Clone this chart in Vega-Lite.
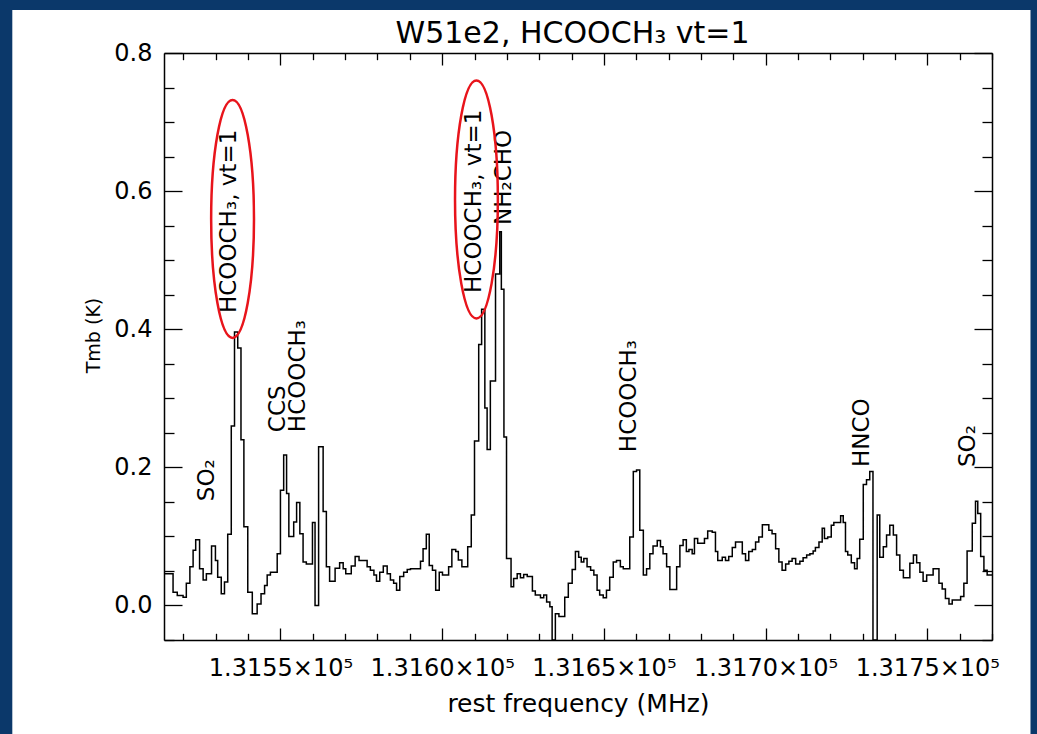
{
  "$schema": "https://vega.github.io/schema/vega-lite/v6.json",
  "width": 828,
  "height": 587,
  "autosize": {"type": "none"},
  "padding": {"left": 164, "top": 53, "right": 45, "bottom": 94},
  "background": "#0b386a",
  "config": {
    "view": {"stroke": null},
    "axis": {
      "zindex": 1,
      "grid": false,
      "domainColor": "#000000",
      "domainWidth": 1.5,
      "tickColor": "#000000",
      "tickWidth": 1.3,
      "labelFont": "DejaVu Sans",
      "labelFontSize": 24,
      "labelColor": "#000000",
      "titleFont": "DejaVu Sans",
      "titleFontSize": 24,
      "titleFontWeight": "normal",
      "titleColor": "#000000",
      "labelFlush": false,
      "labelOverlap": false,
      "labelBound": false
    },
    "text": {"font": "DejaVu Sans", "color": "#000000"}
  },
  "datasets": {
    "spectrum": [
      {"f": 131514.2, "T": 0.046}, {"f": 131516.8, "T": 0.019}, {"f": 131518.1, "T": 0.0145}, {"f": 131519.9, "T": 0.012},
      {"f": 131520.9, "T": 0.032}, {"f": 131522.0, "T": 0.056}, {"f": 131523.0, "T": 0.080}, {"f": 131523.8, "T": 0.095},
      {"f": 131525.0, "T": 0.053}, {"f": 131526.1, "T": 0.037}, {"f": 131527.1, "T": 0.046}, {"f": 131528.7, "T": 0.086},
      {"f": 131529.9, "T": 0.065}, {"f": 131530.6, "T": 0.041}, {"f": 131531.7, "T": 0.017}, {"f": 131532.7, "T": 0.034},
      {"f": 131533.7, "T": 0.103}, {"f": 131534.8, "T": 0.260}, {"f": 131535.8, "T": 0.396}, {"f": 131536.8, "T": 0.373},
      {"f": 131537.8, "T": 0.240}, {"f": 131538.7, "T": 0.114}, {"f": 131539.9, "T": 0.019}, {"f": 131541.3, "T": -0.012},
      {"f": 131542.8, "T": 0.002}, {"f": 131544.0, "T": 0.017}, {"f": 131545.1, "T": 0.029}, {"f": 131545.9, "T": 0.044},
      {"f": 131546.9, "T": 0.048}, {"f": 131549.0, "T": 0.075}, {"f": 131550.0, "T": 0.167}, {"f": 131551.0, "T": 0.218},
      {"f": 131551.9, "T": 0.162}, {"f": 131552.6, "T": 0.100}, {"f": 131554.1, "T": 0.121}, {"f": 131555.0, "T": 0.149},
      {"f": 131556.0, "T": 0.104}, {"f": 131557.0, "T": 0.063}, {"f": 131558.0, "T": 0.060}, {"f": 131559.9, "T": 0.120},
      {"f": 131560.7, "T": 0.000}, {"f": 131561.8, "T": 0.230}, {"f": 131563.2, "T": 0.136}, {"f": 131564.2, "T": 0.056},
      {"f": 131565.2, "T": 0.035}, {"f": 131566.9, "T": 0.054}, {"f": 131568.3, "T": 0.062}, {"f": 131569.4, "T": 0.053},
      {"f": 131570.2, "T": 0.046}, {"f": 131571.9, "T": 0.057}, {"f": 131573.1, "T": 0.071}, {"f": 131574.3, "T": 0.065},
      {"f": 131576.8, "T": 0.056}, {"f": 131577.8, "T": 0.051}, {"f": 131578.9, "T": 0.044}, {"f": 131579.7, "T": 0.035},
      {"f": 131580.7, "T": 0.048}, {"f": 131581.8, "T": 0.057}, {"f": 131583.0, "T": 0.046}, {"f": 131584.0, "T": 0.037},
      {"f": 131585.0, "T": 0.032}, {"f": 131585.9, "T": 0.022}, {"f": 131586.9, "T": 0.042}, {"f": 131588.1, "T": 0.048},
      {"f": 131589.2, "T": 0.052}, {"f": 131590.2, "T": 0.053}, {"f": 131593.3, "T": 0.064}, {"f": 131594.1, "T": 0.082},
      {"f": 131595.1, "T": 0.103}, {"f": 131596.0, "T": 0.058}, {"f": 131597.0, "T": 0.051}, {"f": 131598.0, "T": 0.022},
      {"f": 131599.1, "T": 0.048}, {"f": 131600.1, "T": 0.044}, {"f": 131602.0, "T": 0.056}, {"f": 131603.0, "T": 0.081},
      {"f": 131604.2, "T": 0.078}, {"f": 131605.0, "T": 0.066}, {"f": 131606.1, "T": 0.056}, {"f": 131607.9, "T": 0.085},
      {"f": 131609.0, "T": 0.131}, {"f": 131610.0, "T": 0.238}, {"f": 131611.3, "T": 0.378}, {"f": 131612.2, "T": 0.429},
      {"f": 131613.2, "T": 0.286}, {"f": 131613.9, "T": 0.226}, {"f": 131614.9, "T": 0.325}, {"f": 131616.5, "T": 0.480},
      {"f": 131617.8, "T": 0.541}, {"f": 131618.3, "T": 0.458}, {"f": 131619.1, "T": 0.244}, {"f": 131619.9, "T": 0.068},
      {"f": 131621.3, "T": 0.027}, {"f": 131622.1, "T": 0.039}, {"f": 131623.2, "T": 0.046}, {"f": 131624.2, "T": 0.040},
      {"f": 131625.2, "T": 0.045}, {"f": 131626.3, "T": 0.042}, {"f": 131627.9, "T": 0.021}, {"f": 131628.8, "T": 0.015},
      {"f": 131630.4, "T": 0.011}, {"f": 131631.4, "T": 0.015}, {"f": 131632.3, "T": 0.005}, {"f": 131633.3, "T": -0.002},
      {"f": 131634.0, "T": -0.050}, {"f": 131635.0, "T": -0.012}, {"f": 131636.1, "T": -0.016}, {"f": 131637.9, "T": 0.012},
      {"f": 131639.0, "T": 0.032}, {"f": 131640.2, "T": 0.052}, {"f": 131641.2, "T": 0.078}, {"f": 131642.2, "T": 0.070},
      {"f": 131643.0, "T": 0.063}, {"f": 131643.8, "T": 0.068}, {"f": 131644.8, "T": 0.056}, {"f": 131645.9, "T": 0.051},
      {"f": 131646.9, "T": 0.044}, {"f": 131647.9, "T": 0.022}, {"f": 131648.7, "T": 0.015}, {"f": 131649.8, "T": 0.011},
      {"f": 131650.8, "T": 0.022}, {"f": 131651.8, "T": 0.041}, {"f": 131652.9, "T": 0.063}, {"f": 131653.9, "T": 0.065},
      {"f": 131655.1, "T": 0.056}, {"f": 131656.0, "T": 0.053}, {"f": 131658.0, "T": 0.099}, {"f": 131659.1, "T": 0.194},
      {"f": 131660.1, "T": 0.196}, {"f": 131661.1, "T": 0.109}, {"f": 131662.2, "T": 0.044}, {"f": 131663.2, "T": 0.053},
      {"f": 131664.2, "T": 0.075}, {"f": 131665.2, "T": 0.086}, {"f": 131666.5, "T": 0.094}, {"f": 131667.5, "T": 0.085},
      {"f": 131668.3, "T": 0.075}, {"f": 131669.4, "T": 0.056}, {"f": 131670.4, "T": 0.023}, {"f": 131672.5, "T": 0.056},
      {"f": 131673.5, "T": 0.087}, {"f": 131674.5, "T": 0.095}, {"f": 131675.5, "T": 0.078}, {"f": 131676.3, "T": 0.081},
      {"f": 131677.3, "T": 0.075}, {"f": 131678.0, "T": 0.097}, {"f": 131679.0, "T": 0.090}, {"f": 131681.1, "T": 0.097},
      {"f": 131682.1, "T": 0.108}, {"f": 131683.5, "T": 0.106}, {"f": 131684.5, "T": 0.078}, {"f": 131685.2, "T": 0.065},
      {"f": 131686.6, "T": 0.070}, {"f": 131687.6, "T": 0.065}, {"f": 131688.6, "T": 0.071}, {"f": 131689.7, "T": 0.084},
      {"f": 131690.7, "T": 0.092}, {"f": 131692.8, "T": 0.075}, {"f": 131693.8, "T": 0.065}, {"f": 131694.8, "T": 0.078},
      {"f": 131695.9, "T": 0.081}, {"f": 131696.9, "T": 0.092}, {"f": 131697.9, "T": 0.099}, {"f": 131699.0, "T": 0.117},
      {"f": 131701.0, "T": 0.109}, {"f": 131702.0, "T": 0.104}, {"f": 131703.1, "T": 0.082}, {"f": 131704.1, "T": 0.063},
      {"f": 131705.1, "T": 0.051}, {"f": 131706.2, "T": 0.060}, {"f": 131707.2, "T": 0.064}, {"f": 131708.2, "T": 0.068},
      {"f": 131709.3, "T": 0.060}, {"f": 131710.6, "T": 0.064}, {"f": 131711.6, "T": 0.069}, {"f": 131712.7, "T": 0.073},
      {"f": 131713.7, "T": 0.075}, {"f": 131714.7, "T": 0.079}, {"f": 131715.4, "T": 0.084}, {"f": 131716.5, "T": 0.092},
      {"f": 131717.5, "T": 0.112}, {"f": 131718.2, "T": 0.097}, {"f": 131719.2, "T": 0.099}, {"f": 131720.3, "T": 0.116},
      {"f": 131721.1, "T": 0.120}, {"f": 131723.2, "T": 0.130}, {"f": 131724.0, "T": 0.120}, {"f": 131724.7, "T": 0.078},
      {"f": 131725.4, "T": 0.073}, {"f": 131726.5, "T": 0.062}, {"f": 131727.5, "T": 0.053}, {"f": 131728.3, "T": 0.068},
      {"f": 131729.1, "T": 0.096}, {"f": 131730.2, "T": 0.175}, {"f": 131731.2, "T": 0.182}, {"f": 131732.2, "T": 0.194},
      {"f": 131733.2, "T": -0.050}, {"f": 131734.5, "T": 0.131}, {"f": 131735.3, "T": 0.070}, {"f": 131736.4, "T": 0.085},
      {"f": 131737.4, "T": 0.102}, {"f": 131738.4, "T": 0.116}, {"f": 131739.5, "T": 0.102}, {"f": 131740.5, "T": 0.073},
      {"f": 131741.5, "T": 0.051}, {"f": 131742.6, "T": 0.040}, {"f": 131744.6, "T": 0.061}, {"f": 131745.7, "T": 0.073},
      {"f": 131746.7, "T": 0.062}, {"f": 131747.7, "T": 0.048}, {"f": 131748.7, "T": 0.035}, {"f": 131749.8, "T": 0.044},
      {"f": 131751.8, "T": 0.053}, {"f": 131753.6, "T": 0.032}, {"f": 131754.6, "T": 0.024}, {"f": 131755.6, "T": 0.010},
      {"f": 131756.7, "T": 0.002}, {"f": 131757.7, "T": 0.008}, {"f": 131760.3, "T": 0.013}, {"f": 131761.3, "T": 0.032},
      {"f": 131762.3, "T": 0.079}, {"f": 131763.9, "T": 0.119}, {"f": 131764.9, "T": 0.151}, {"f": 131765.6, "T": 0.133},
      {"f": 131766.5, "T": 0.071}, {"f": 131767.5, "T": 0.051}, {"f": 131768.5, "T": 0.044}, {"f": 131770.0, "T": 0.044}
    ],
    "lines": [
      {"label": "SO₂", "f": 131527.4, "T": 0.151},
      {"label": "HCOOCH₃,  vt=1", "f": 131534.2, "T": 0.4235},
      {"label": "CCS", "f": 131549.1, "T": 0.251},
      {"label": "HCOOCH₃", "f": 131555.3, "T": 0.251},
      {"label": "HCOOCH₃,  vt=1", "f": 131609.7, "T": 0.4525},
      {"label": "NH₂CHO", "f": 131619.0, "T": 0.551},
      {"label": "HCOOCH₃", "f": 131657.9, "T": 0.222},
      {"label": "HNCO", "f": 131729.7, "T": 0.2005},
      {"label": "SO₂", "f": 131762.7, "T": 0.2005}
    ],
    "highlights": [
      {"line": "HCOOCH3 vt=1 (a)", "f": 131535.2, "T": 0.5597},
      {"line": "HCOOCH3 vt=1 (b)", "f": 131610.6, "T": 0.5879}
    ]
  },
  "resolve": {"axis": {"x": "independent", "y": "independent"}},
  "layer": [
    {
      "description": "white page behind the plot, inside the dark frame",
      "data": {"values": [{"panel": "page"}]},
      "mark": {"type": "rect", "fill": "#ffffff", "clip": false},
      "encoding": {
        "x": {"datum": 131467.1, "type": "quantitative", "scale": {"domain": [131514, 131770], "nice": false, "zero": false}, "axis": null},
        "x2": {"datum": 131781.9},
        "y": {"datum": 0.8623, "type": "quantitative", "scale": {"domain": [-0.05, 0.8], "nice": false, "zero": false}, "axis": null},
        "y2": {"datum": -0.2}
      }
    },
    {
      "description": "spectrum, drawn as a histogram-style step line",
      "data": {"name": "spectrum"},
      "mark": {"type": "line", "interpolate": "step-after", "stroke": "#000000", "strokeWidth": 1.5},
      "encoding": {
        "x": {
          "field": "f", "type": "quantitative",
          "scale": {"domain": [131514, 131770], "nice": false, "zero": false},
          "axis": {
            "orient": "bottom",
            "zindex": 2,
            "values": [131550, 131600, 131650, 131700, 131750],
            "tickSize": -12,
            "labelExpr": "format(datum.value / 100000, '.4f') + '×10⁵'",
            "labelPadding": 28,
            "title": "rest frequency (MHz)",
            "titleFontSize": 25,
            "titlePadding": 11
          }
        },
        "y": {
          "field": "T", "type": "quantitative",
          "scale": {"domain": [-0.05, 0.8], "nice": false, "zero": false},
          "axis": {
            "orient": "left",
            "zindex": 2,
            "values": [0, 0.2, 0.4, 0.6, 0.8],
            "format": ".1f",
            "tickSize": -18,
            "labelPadding": 30,
            "title": "Tmb (K)",
            "titleFontSize": 19,
            "titleY": 282,
            "titlePadding": 10
          }
        }
      }
    },
    {
      "description": "minor ticks, bottom and left",
      "data": {"name": "spectrum"},
      "mark": {"type": "line", "strokeOpacity": 0},
      "encoding": {
        "x": {
          "field": "f", "type": "quantitative",
          "scale": {"domain": [131514, 131770], "nice": false, "zero": false},
          "axis": {"orient": "bottom", "zindex": 2, "values": [131520, 131530, 131540, 131560, 131570, 131580, 131590, 131610, 131620, 131630, 131640, 131660, 131670, 131680, 131690, 131710, 131720, 131730, 131740, 131760, 131770], "tickSize": -6.7, "labels": false, "domain": false, "title": null}
        },
        "y": {
          "field": "T", "type": "quantitative",
          "scale": {"domain": [-0.05, 0.8], "nice": false, "zero": false},
          "axis": {"orient": "left", "zindex": 2, "values": [-0.05, 0.05, 0.1, 0.15, 0.25, 0.3, 0.35, 0.45, 0.5, 0.55, 0.65, 0.7, 0.75], "tickSize": -10, "labels": false, "domain": false, "title": null}
        }
      }
    },
    {
      "description": "major ticks and frame, top and right; the top axis carries the plot title",
      "data": {"name": "spectrum"},
      "mark": {"type": "line", "strokeOpacity": 0},
      "encoding": {
        "x": {
          "field": "f", "type": "quantitative",
          "scale": {"domain": [131514, 131770], "nice": false, "zero": false},
          "axis": {
            "orient": "top", "zindex": 2,
            "values": [131550, 131600, 131650, 131700, 131750],
            "tickSize": -12, "labels": false, "domain": true,
            "title": "W51e2, HCOOCH₃ vt=1",
            "titleFontSize": 30,
            "titleBaseline": "alphabetic",
            "titleAlign": "center",
            "titleAngle": 0,
            "titleX": 408,
            "titleY": -11
          }
        },
        "y": {
          "field": "T", "type": "quantitative",
          "scale": {"domain": [-0.05, 0.8], "nice": false, "zero": false},
          "axis": {"orient": "right", "zindex": 2, "values": [0, 0.2, 0.4, 0.6, 0.8], "tickSize": -18, "labels": false, "domain": true, "title": null}
        }
      }
    },
    {
      "description": "minor ticks, top and right",
      "data": {"name": "spectrum"},
      "mark": {"type": "line", "strokeOpacity": 0},
      "encoding": {
        "x": {
          "field": "f", "type": "quantitative",
          "scale": {"domain": [131514, 131770], "nice": false, "zero": false},
          "axis": {"orient": "top", "zindex": 2, "values": [131520, 131530, 131540, 131560, 131570, 131580, 131590, 131610, 131620, 131630, 131640, 131660, 131670, 131680, 131690, 131710, 131720, 131730, 131740, 131760, 131770], "tickSize": -6.7, "labels": false, "domain": false, "title": null}
        },
        "y": {
          "field": "T", "type": "quantitative",
          "scale": {"domain": [-0.05, 0.8], "nice": false, "zero": false},
          "axis": {"orient": "right", "zindex": 2, "values": [-0.05, 0.05, 0.1, 0.15, 0.25, 0.3, 0.35, 0.45, 0.5, 0.55, 0.65, 0.7, 0.75], "tickSize": -10, "labels": false, "domain": false, "title": null}
        }
      }
    },
    {
      "description": "line identifications",
      "data": {"name": "lines"},
      "mark": {"type": "text", "angle": 270, "align": "left", "baseline": "middle", "fontSize": 23, "color": "#000000"},
      "encoding": {
        "x": {"field": "f", "type": "quantitative", "scale": {"domain": [131514, 131770], "nice": false, "zero": false}, "axis": null},
        "y": {"field": "T", "type": "quantitative", "scale": {"domain": [-0.05, 0.8], "nice": false, "zero": false}, "axis": null},
        "text": {"field": "label"}
      }
    },
    {
      "description": "red ellipses around the vt=1 identifications",
      "data": {"name": "highlights"},
      "mark": {
        "type": "point",
        "shape": "M0,-1A0.18,1,0,1,1,0,1A0.18,1,0,1,1,0,-1Z",
        "size": 56644,
        "filled": false,
        "opacity": 1,
        "stroke": "#e8141b",
        "strokeWidth": 2.5
      },
      "encoding": {
        "x": {"field": "f", "type": "quantitative", "scale": {"domain": [131514, 131770], "nice": false, "zero": false}, "axis": null},
        "y": {"field": "T", "type": "quantitative", "scale": {"domain": [-0.05, 0.8], "nice": false, "zero": false}, "axis": null}
      }
    }
  ]
}
